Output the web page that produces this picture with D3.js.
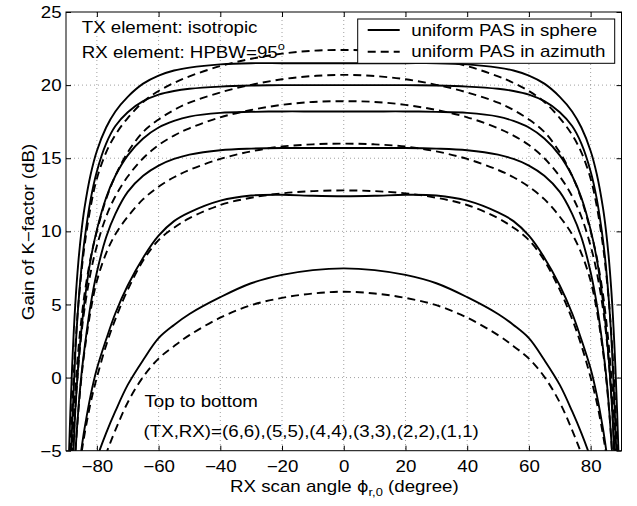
<!DOCTYPE html>
<html><head><meta charset="utf-8">
<script src="https://cdn.jsdelivr.net/npm/d3@7"></script>
<style>
body{margin:0;background:#fff;}
text{font-family:"Liberation Sans",Arial,Helvetica,sans-serif;fill:#000;}
</style></head>
<body><svg id="c" width="637" height="506"></svg>
<script>
// ---- data ----
const angles = [-89.5,-89,-88,-87,-86,-85,-84,-82,-80,-77,-74,-70,-65,-60,-55,-50,-40,-30,-20,-10,0,10,20,30,40,50,55,60,65,70,74,77,80,82,84,85,86,87,88,89,89.5];
const sphere66 = [-10,-5.0,0.8,5.0,7.9,10.0,11.6,13.9,15.5,17.1,18.2,19.2,20.1,20.65,21.0,21.2,21.42,21.5,21.5,21.5,21.5,21.5,21.5,21.5,21.42,21.2,21.0,20.65,20.1,19.2,18.2,17.1,15.5,13.9,11.6,10.0,7.9,5.0,0.8,-5.0,-10];
const sphere55 = [-15,-9.5,-3.2,1.6,5.0,7.5,9.4,12.2,14.1,16.0,17.2,18.15,18.9,19.35,19.6,19.75,19.9,19.97,20.0,20.0,20.0,20.0,20.0,19.97,19.9,19.75,19.6,19.35,18.9,18.15,17.2,16.0,14.1,12.2,9.4,7.5,5.0,1.6,-3.2,-9.5,-15];
const sphere44 = [-19,-13,-6.8,-2.3,0.9,3.3,5.2,8.1,10.1,12.3,13.8,15.2,16.35,17.1,17.55,17.85,18.1,18.17,18.2,18.2,18.2,18.2,18.2,18.17,18.1,17.85,17.55,17.1,16.35,15.2,13.8,12.3,10.1,8.1,5.2,3.3,0.9,-2.3,-6.8,-13,-19];
const sphere33 = [-21,-15,-9.5,-5.3,-2.2,0.2,2.0,5.0,7.2,9.6,11.2,12.7,13.8,14.5,14.95,15.25,15.55,15.66,15.7,15.7,15.7,15.7,15.7,15.66,15.55,15.25,14.95,14.5,13.8,12.7,11.2,9.6,7.2,5.0,2.0,0.2,-2.2,-5.3,-9.5,-15,-21];
const sphere22 = [-21,-16,-11.5,-8.5,-6.5,-4.9,-3.5,-1.2,0.6,2.6,4.4,6.3,8.2,9.7,10.7,11.3,12.1,12.45,12.5,12.43,12.4,12.43,12.5,12.45,12.1,11.3,10.7,9.7,8.2,6.3,4.4,2.6,0.6,-1.2,-3.5,-4.9,-6.5,-8.5,-11.5,-16,-21];
const sphere11 = [-21,-17,-13.5,-11.5,-10.2,-9.2,-8.3,-6.8,-5.5,-3.8,-2.3,-0.5,1.2,2.7,3.6,4.35,5.5,6.45,7.02,7.35,7.47,7.35,7.02,6.45,5.5,4.35,3.6,2.7,1.2,-0.5,-2.3,-3.8,-5.5,-6.8,-8.3,-9.2,-10.2,-11.5,-13.5,-17,-21];
const azim66 = [-13,-7.5,-2.0,2.0,5.0,7.2,9.0,11.7,13.6,15.4,16.6,17.75,18.85,19.6,20.15,20.6,21.3,21.8,22.15,22.35,22.4,22.35,22.15,21.8,21.3,20.6,20.15,19.6,18.85,17.75,16.6,15.4,13.6,11.7,9.0,7.2,5.0,2.0,-2.0,-7.5,-13];
const azim55 = [-16,-10.5,-4.8,-0.9,1.9,4.0,5.7,8.2,10.0,12.2,13.8,15.4,16.8,17.65,18.3,18.8,19.5,20.02,20.4,20.62,20.7,20.62,20.4,20.02,19.5,18.8,18.3,17.65,16.8,15.4,13.8,12.2,10.0,8.2,5.7,4.0,1.9,-0.9,-4.8,-10.5,-16];
const azim44 = [-18,-12,-6.3,-2.2,0.8,3.0,4.7,7.2,9.0,11.0,12.4,13.75,15.0,15.9,16.55,17.05,17.8,18.3,18.65,18.85,18.9,18.85,18.65,18.3,17.8,17.05,16.55,15.9,15.0,13.75,12.4,11.0,9.0,7.2,4.7,3.0,0.8,-2.2,-6.3,-12,-18];
const azim33 = [-21,-15,-9.5,-5.3,-2.3,0.0,1.8,4.6,6.6,8.5,9.8,11.0,12.2,13.05,13.7,14.2,14.95,15.47,15.8,15.95,16.0,15.95,15.8,15.47,14.95,14.2,13.7,13.05,12.2,11.0,9.8,8.5,6.6,4.6,1.8,0.0,-2.3,-5.3,-9.5,-15,-21];
const azim22 = [-21,-16.5,-11.7,-8.7,-6.7,-5.2,-3.9,-1.7,0.0,2.2,4.0,6.0,8.0,9.4,10.25,10.9,11.8,12.3,12.6,12.75,12.8,12.75,12.6,12.3,11.8,10.9,10.25,9.4,8.0,6.0,4.0,2.2,0.0,-1.7,-3.9,-5.2,-6.7,-8.7,-11.7,-16.5,-21];
const azim11 = [-21,-17,-13.8,-12.0,-11.0,-10.2,-9.5,-8.2,-7.0,-5.2,-3.6,-1.7,0.05,1.3,2.15,2.9,4.1,4.95,5.45,5.75,5.87,5.75,5.45,4.95,4.1,2.9,2.15,1.3,0.05,-1.7,-3.6,-5.2,-7.0,-8.2,-9.5,-10.2,-11.0,-12.0,-13.8,-17,-21];
const xTicks = [-80,-60,-40,-20,0,20,40,60,80];
const yTicks = [-5,0,5,10,15,20,25];
const legendLabels = ["uniform PAS in sphere","uniform PAS in azimuth"];

const sphereSeries = [sphere66,sphere55,sphere44,sphere33,sphere22,sphere11];
const azimSeries = [azim66,azim55,azim44,azim33,azim22,azim11];

// ---- layout ----
const L=66, R=621.5, T=12, B=450.7;
const SX=1.17, FS=16;
const svg=d3.select("#c");
const x=d3.scaleLinear().domain([-90,90]).range([L,R]);
const y=d3.scaleLinear().domain([-5,25]).range([B,T]);

svg.append("defs").append("clipPath").attr("id","clip")
  .append("rect").attr("x",L).attr("y",T).attr("width",R-L).attr("height",B-T);

// grid
const grid=svg.append("g").attr("stroke","#888").attr("stroke-width",0.8).attr("stroke-dasharray","1,3");
xTicks.forEach(v=>grid.append("line").attr("x1",x(v)).attr("x2",x(v)).attr("y1",T).attr("y2",B));
yTicks.filter(v=>v>-5&&v<25).forEach(v=>grid.append("line").attr("x1",L).attr("x2",R).attr("y1",y(v)).attr("y2",y(v)));

// axes (inward ticks on all sides)
const fmt=v=>(v<0?"\u2212"+Math.abs(v):""+v);
const ax=svg.append("g").attr("transform",`translate(0,${B})`).call(d3.axisBottom(x).tickValues(xTicks).tickSize(-5).tickFormat(fmt));
ax.selectAll("text").attr("y",0).attr("dy",null).attr("transform",`translate(0,21.3) scale(${SX},1)`);
const axT=svg.append("g").attr("transform",`translate(0,${T})`).call(d3.axisTop(x).tickValues(xTicks).tickSize(-5).tickFormat(""));
const ay=svg.append("g").attr("transform",`translate(${L},0)`).call(d3.axisLeft(y).tickValues(yTicks).tickSize(-5).tickFormat(fmt));
ay.selectAll("text").attr("x",0).attr("dy",null).attr("y",0).attr("transform",`translate(-4.3,5.6) scale(${SX},1)`);
const ayR=svg.append("g").attr("transform",`translate(${R},0)`).call(d3.axisRight(y).tickValues(yTicks).tickSize(-5).tickFormat(""));
[ax,axT,ay,ayR].forEach(g=>{g.select(".domain").remove();g.selectAll("line").attr("stroke","#000");g.selectAll("text").attr("font-size",FS).attr("fill","#000").style("font-family",'"Liberation Sans",Arial,sans-serif');});

// curves
const line=d3.line().x((d,i)=>x(angles[i])).y(d=>y(d)).curve(d3.curveCatmullRom.alpha(0.5));
const plot=svg.append("g").attr("clip-path","url(#clip)");
sphereSeries.forEach(s=>plot.append("path").attr("d",line(s)).attr("fill","none").attr("stroke","#000").attr("stroke-width",1.9));
azimSeries.forEach(s=>plot.append("path").attr("d",line(s)).attr("fill","none").attr("stroke","#000").attr("stroke-width",1.9).attr("stroke-dasharray","8,5"));

// frame
svg.append("rect").attr("x",L).attr("y",T).attr("width",R-L).attr("height",B-T).attr("fill","none").attr("stroke","#000").attr("stroke-width",1);

// texts
function txt(s,px,py,anchor){return svg.append("text").attr("transform",`translate(${px},${py}) scale(${SX},1)`).attr("font-size",FS).attr("text-anchor",anchor||"start").text(s);}
txt("TX element: isotropic",81.7,33.3);
const rx=txt("RX element: HPBW=95",81.7,58.3);
rx.append("tspan").attr("font-size",11).attr("dy",-8).text("o");
txt("Top to bottom",144.5,406.7);
txt("(TX,RX)=(6,6),(5,5),(4,4),(3,3),(2,2),(1,1)",143.5,437.3);

// x label
const xl=txt("RX scan angle ",230,491.5);
xl.append("tspan").style("font-family","DejaVu Sans, sans-serif").attr("font-size",15).text("\u03d5");
xl.append("tspan").attr("font-size",11).attr("dy",4).text("r,0");
xl.append("tspan").attr("dy",-4).text(" (degree)");

// y label
svg.append("text").attr("transform",`translate(33.5,232) rotate(-90) scale(${SX},1)`).attr("font-size",FS).attr("text-anchor","middle").text("Gain of K\u2212factor (dB)");

// legend
const lg=svg.append("g");
lg.append("rect").attr("x",357.7).attr("y",19).attr("width",257).attr("height",44.3).attr("fill","#fff").attr("stroke","#000").attr("stroke-width",1);
[0,1].forEach(i=>{
  const ly=30+i*21.7;
  lg.append("line").attr("x1",367.7).attr("x2",399.7).attr("y1",ly).attr("y2",ly).attr("stroke","#000").attr("stroke-width",1.9).attr("stroke-dasharray",i?"8,5":null);
  lg.append("text").attr("transform",`translate(411.3,${ly+5.6}) scale(${SX},1)`).attr("font-size",FS).text(legendLabels[i]);
});
</script></body></html>
